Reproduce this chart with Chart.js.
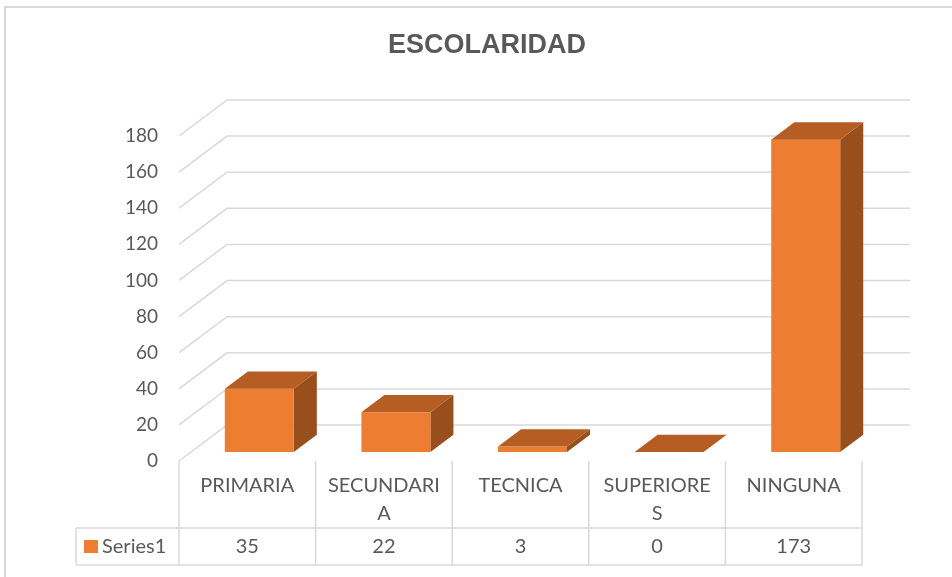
<!DOCTYPE html>
<html>
<head>
<meta charset="utf-8">
<title>Escolaridad</title>
<script src="https://cdn.jsdelivr.net/npm/chart.js@4.4.0/dist/chart.umd.min.js"></script>
<style>
  html, body { margin: 0; padding: 0; background: #fff; }
  #chartContainer { width: 952px; height: 577px; position: relative; }
</style>
</head>
<body>
<div id="chartContainer"><canvas id="myChart"></canvas></div>
<script>
// DATOS
const titulo = 'ESCOLARIDAD'
const categorias = ['PRIMARIA', 'SECUNDARIA', 'TECNICA', 'SUPERIORES', 'NINGUNA']
const serieNombre = 'Series1'
const serieValores = [35, 22, 3, 0, 173]
const yTicks = [0, 20, 40, 60, 80, 100, 120, 140, 160, 180]

// colores
const naranja = '#ED7D31'
const naranjaTop = '#B55D22'
const naranjaSide = '#994E1E'
const gris = '#D9D9D9'
const texto = '#595959'

// "3D": desplazamiento del plano del fondo y de las barras
const fondo = { dx: 48, dy: -36 }
const barOffset = 0.25
const barDepth = 0.48

// corta el texto por letras como Excel
let partirTexto = (ctx, txt, maxW) => {
    let lineas = []
    let linea = ''
    for (const ch of txt) {
        if (linea && ctx.measureText(linea + ch).width > maxW) {
            lineas.push(linea)
            linea = ch
        } else {
            linea += ch
        }
    }
    lineas.push(linea)
    return lineas
}

const plugin3d = {
    id: 'plugin3d',
    beforeDraw(chart) {
        const { ctx, width, height } = chart
        ctx.save()
        ctx.fillStyle = '#fff'
        ctx.fillRect(0, 0, width, height)
        // marco
        ctx.strokeStyle = gris
        ctx.lineWidth = 2
        ctx.beginPath()
        ctx.moveTo(5, height)
        ctx.lineTo(5, 7)
        ctx.lineTo(width, 7)
        ctx.stroke()
        // titulo
        ctx.fillStyle = texto
        ctx.font = 'bold 27px "Liberation Sans", Arial, sans-serif'
        ctx.textAlign = 'center'
        ctx.textBaseline = 'middle'
        ctx.fillText(titulo, 487, 46)
        ctx.restore()
    },
    beforeDatasetsDraw(chart) {
        const { ctx, chartArea, scales: { y } } = chart
        ctx.save()
        ctx.strokeStyle = gris
        ctx.lineWidth = 1.5
        yTicks.forEach(v => {
            const py = y.getPixelForValue(v)
            ctx.beginPath()
            ctx.moveTo(chartArea.left, py)
            ctx.lineTo(chartArea.left + fondo.dx, py + fondo.dy)
            ctx.lineTo(chartArea.right + fondo.dx, py + fondo.dy)
            ctx.stroke()
        })
        ctx.restore()
    },
    afterDatasetsDraw(chart) {
        const { ctx } = chart
        const meta = chart.getDatasetMeta(0)
        const ox = fondo.dx * barOffset
        const oy = fondo.dy * barOffset
        const dx = fondo.dx * barDepth
        const dy = fondo.dy * barDepth
        ctx.save()
        ctx.lineJoin = 'round'
        meta.data.forEach(bar => {
            const x0 = bar.x - bar.width / 2 + ox
            const x1 = bar.x + bar.width / 2 + ox
            const yt = bar.y + oy
            const yb = bar.base + oy
            // cara lateral
            ctx.fillStyle = naranjaSide
            ctx.beginPath()
            ctx.moveTo(x1, yt)
            ctx.lineTo(x1 + dx, yt + dy)
            ctx.lineTo(x1 + dx, yb + dy)
            ctx.lineTo(x1, yb)
            ctx.closePath()
            ctx.fill()
            // cara frontal
            ctx.fillStyle = naranja
            ctx.fillRect(x0, yt, x1 - x0, yb - yt)
            // tapa
            ctx.fillStyle = naranjaTop
            ctx.beginPath()
            ctx.moveTo(x0, yt)
            ctx.lineTo(x1, yt)
            ctx.lineTo(x1 + dx, yt + dy)
            ctx.lineTo(x0 + dx, yt + dy)
            ctx.closePath()
            ctx.fill()
        })
        ctx.restore()
    },
    afterDraw(chart) {
        // tabla de datos
        const { ctx, chartArea, scales: { x } } = chart
        const top = chartArea.bottom
        const filaY = 528
        const abajo = 565
        const izq = 76
        const paso = x.getPixelForValue(1) - x.getPixelForValue(0)
        ctx.save()
        ctx.strokeStyle = gris
        ctx.lineWidth = 1.5
        ctx.beginPath()
        for (let i = 0; i <= categorias.length; i++) {
            const px = chartArea.left + i * paso
            ctx.moveTo(px, top)
            ctx.lineTo(px, abajo)
        }
        ctx.moveTo(izq, filaY)
        ctx.lineTo(chartArea.right, filaY)
        ctx.moveTo(izq, abajo)
        ctx.lineTo(chartArea.right, abajo)
        ctx.moveTo(izq, filaY)
        ctx.lineTo(izq, abajo)
        ctx.stroke()

        ctx.fillStyle = texto
        ctx.font = '20px Lato, "Open Sans", sans-serif'
        ctx.textAlign = 'center'
        ctx.textBaseline = 'middle'
        categorias.forEach((cat, i) => {
            const cx = x.getPixelForValue(i)
            const lineas = partirTexto(ctx, cat, paso - 24)
            lineas.forEach((l, j) => ctx.fillText(l, cx, 486 + j * 28))
            ctx.fillText(String(serieValores[i]), cx, 547)
        })
        // leyenda
        ctx.fillStyle = naranja
        ctx.fillRect(84, 540, 14, 13)
        ctx.fillStyle = texto
        ctx.textAlign = 'left'
        ctx.fillText(serieNombre, 102, 547)
        ctx.restore()
    }
}

const data = {
    labels: categorias,
    datasets: [{
        label: serieNombre,
        data: serieValores,
        backgroundColor: 'rgba(0,0,0,0)',
        borderWidth: 0,
        categoryPercentage: 1,
        barPercentage: 0.505
    }]
}

const config = {
    type: 'bar',
    data: data,
    options: {
        responsive: true,
        maintainAspectRatio: false,
        animation: false,
        events: [],
        layout: { padding: { left: 0, top: 136, right: 90, bottom: 116 } },
        plugins: {
            legend: { display: false },
            title: { display: false },
            tooltip: { enabled: false }
        },
        scales: {
            x: { display: false },
            y: {
                min: 0,
                max: 180,
                afterFit: (scale) => { scale.width = 179 },
                afterBuildTicks: (scale) => { scale.ticks = yTicks.map(v => ({ value: v })) },
                grid: { display: false, drawTicks: false },
                border: { display: false },
                ticks: {
                    padding: 21,
                    color: texto,
                    font: { family: 'Lato, "Open Sans", sans-serif', size: 19 }
                }
            }
        }
    },
    plugins: [plugin3d]
}

const myChart = new Chart(document.getElementById('myChart'), config)
</script>
</body>
</html>
